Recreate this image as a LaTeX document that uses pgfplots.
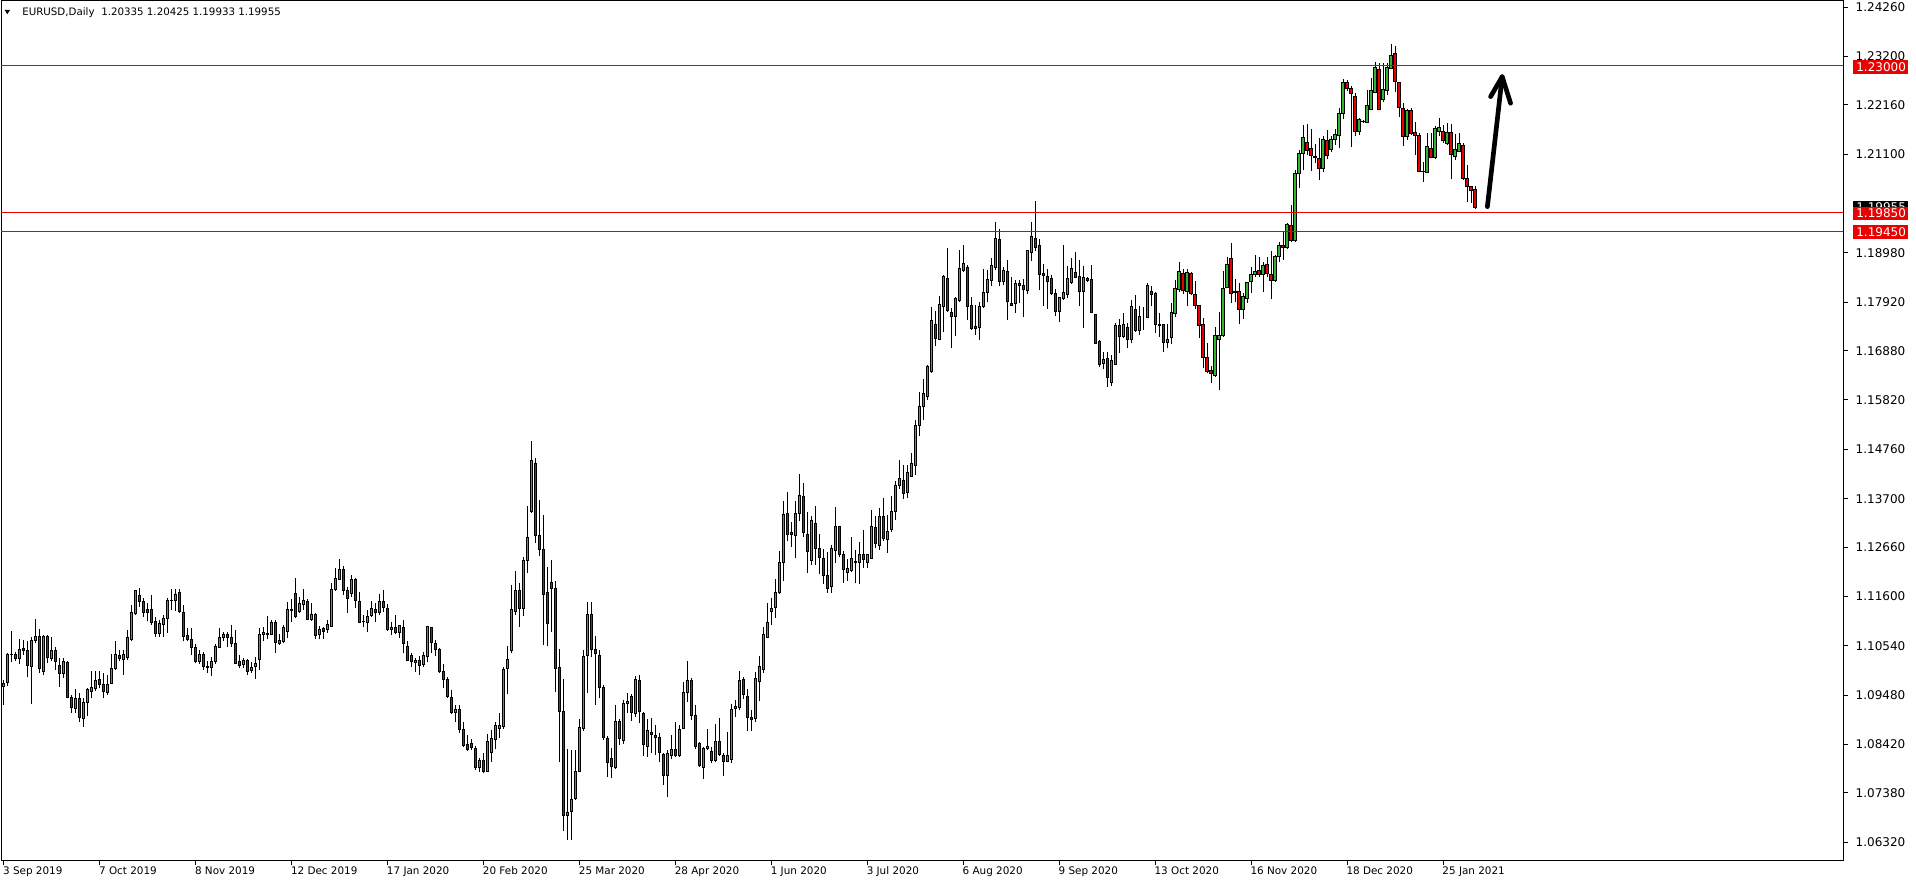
\documentclass[border=0pt]{standalone}
\usepackage{fontspec}
\setmainfont{DejaVu Sans}
\usepackage{pgfplots}
\usepackage{pgfplotstable}
\pgfplotsset{compat=1.18}
\definecolor{bull}{RGB}{50,180,50}
\definecolor{bear}{RGB}{235,0,0}
\definecolor{lvl}{RGB}{235,0,0}
\newcommand\axfont{\fontsize{9bp}{10bp}\selectfont}
\newcommand\dtfont{\fontsize{7.8bp}{9bp}\selectfont}
\pgfplotstableread{
i o h l c
0 1.0967 1.0980 1.0927 1.0973
1 1.0975 1.1038 1.0967 1.1036
2 1.1036 1.1086 1.1018 1.1035
3 1.1036 1.1041 1.1020 1.1027
4 1.1027 1.1068 1.1015 1.1046
5 1.1049 1.1066 1.1034 1.1043
6 1.1043 1.1063 1.0986 1.1011
7 1.1009 1.1073 1.0928 1.1066
8 1.1066 1.1111 1.1059 1.1074
9 1.1074 1.1089 1.0995 1.1005
10 1.0998 1.1077 1.0990 1.1073
11 1.1073 1.1077 1.1016 1.1028
12 1.1027 1.1073 1.1020 1.1043
13 1.1043 1.1052 1.1002 1.1020
14 1.1011 1.1027 1.0966 1.0995
15 1.0995 1.1027 1.0984 1.1020
16 1.1018 1.1022 1.0941 1.0942
17 1.0943 1.0948 1.0910 1.0922
18 1.0920 1.0960 1.0909 1.0941
19 1.0941 1.0952 1.0891 1.0900
20 1.0898 1.0941 1.0880 1.0932
21 1.0932 1.0964 1.0903 1.0960
22 1.0955 1.1000 1.0941 1.0965
23 1.0963 1.1000 1.0957 1.0980
24 1.0982 1.1000 1.0963 1.0970
25 1.0971 1.0996 1.0941 1.0955
26 1.0954 1.0991 1.0948 1.0971
27 1.0973 1.1036 1.0972 1.1005
28 1.1005 1.1064 1.1002 1.1036
29 1.1032 1.1045 1.1020 1.1026
30 1.1025 1.1045 1.0991 1.1034
31 1.1029 1.1088 1.1023 1.1072
32 1.1068 1.1142 1.1063 1.1126
33 1.1124 1.1174 1.1120 1.1172
34 1.1162 1.1179 1.1138 1.1149
35 1.1149 1.1156 1.1116 1.1126
36 1.1131 1.1145 1.1106 1.1125
37 1.1131 1.1163 1.1099 1.1104
38 1.1107 1.1116 1.1073 1.1081
39 1.1081 1.1109 1.1073 1.1101
40 1.1099 1.1120 1.1073 1.1113
41 1.1113 1.1156 1.1081 1.1152
42 1.1152 1.1175 1.1131 1.1151
43 1.1151 1.1175 1.1129 1.1165
44 1.1169 1.1175 1.1125 1.1127
45 1.1126 1.1142 1.1063 1.1073
46 1.1075 1.1091 1.1065 1.1068
47 1.1068 1.1091 1.1034 1.1051
48 1.1051 1.1058 1.1016 1.1020
49 1.1020 1.1045 1.1015 1.1034
50 1.1034 1.1040 1.1002 1.1009
51 1.1009 1.1020 1.0995 1.1008
52 1.1007 1.1030 1.0989 1.1020
53 1.1020 1.1058 1.1015 1.1052
54 1.1051 1.1091 1.1049 1.1072
55 1.1071 1.1084 1.1064 1.1078
56 1.1077 1.1084 1.1052 1.1071
57 1.1072 1.1098 1.1052 1.1059
58 1.1059 1.1088 1.1014 1.1016
59 1.1021 1.1034 1.1005 1.1011
60 1.1013 1.1027 1.1005 1.1023
61 1.1023 1.1025 1.0991 1.0998
62 1.1000 1.1018 1.0996 1.1008
63 1.1009 1.1030 1.0982 1.1015
64 1.1025 1.1091 1.1002 1.1078
65 1.1078 1.1094 1.1065 1.1083
66 1.1079 1.1118 1.1068 1.1080
67 1.1079 1.1109 1.1077 1.1104
68 1.1104 1.1109 1.1039 1.1061
69 1.1059 1.1079 1.1056 1.1066
70 1.1064 1.1098 1.1059 1.1094
71 1.1084 1.1147 1.1070 1.1131
72 1.1130 1.1154 1.1104 1.1132
73 1.1167 1.1199 1.1113 1.1116
74 1.1127 1.1159 1.1124 1.1145
75 1.1142 1.1175 1.1131 1.1152
76 1.1150 1.1154 1.1109 1.1111
77 1.1111 1.1145 1.1108 1.1122
78 1.1122 1.1125 1.1068 1.1076
79 1.1078 1.1096 1.1068 1.1089
80 1.1091 1.1094 1.1068 1.1084
81 1.1089 1.1109 1.1082 1.1099
82 1.1095 1.1188 1.1094 1.1175
83 1.1174 1.1220 1.1172 1.1199
84 1.1197 1.1240 1.1195 1.1218
85 1.1218 1.1225 1.1163 1.1172
86 1.1172 1.1181 1.1125 1.1156
87 1.1167 1.1206 1.1159 1.1197
88 1.1197 1.1200 1.1134 1.1151
89 1.1150 1.1170 1.1102 1.1104
90 1.1107 1.1120 1.1094 1.1106
91 1.1104 1.1131 1.1084 1.1116
92 1.1119 1.1149 1.1115 1.1134
93 1.1132 1.1145 1.1104 1.1125
94 1.1125 1.1165 1.1119 1.1149
95 1.1149 1.1174 1.1127 1.1137
96 1.1134 1.1144 1.1086 1.1088
97 1.1089 1.1104 1.1076 1.1094
98 1.1094 1.1120 1.1079 1.1082
99 1.1083 1.1099 1.1070 1.1097
100 1.1094 1.1109 1.1038 1.1059
101 1.1053 1.1063 1.1020 1.1022
102 1.1032 1.1038 1.1009 1.1020
103 1.1018 1.1028 1.0998 1.1023
104 1.1023 1.1031 1.0991 1.1012
105 1.1014 1.1041 1.1008 1.1032
106 1.1031 1.1096 1.1018 1.1095
107 1.1094 1.1095 1.1038 1.1061
108 1.1058 1.1066 1.1032 1.1045
109 1.1045 1.1048 1.0995 1.0998
110 1.0999 1.1015 1.0964 1.0982
111 1.0982 1.0987 1.0942 1.0944
112 1.0943 1.0959 1.0907 1.0910
113 1.0910 1.0927 1.0891 1.0917
114 1.0917 1.0927 1.0866 1.0874
115 1.0874 1.0891 1.0836 1.0839
116 1.0841 1.0862 1.0828 1.0830
117 1.0843 1.0853 1.0830 1.0835
118 1.0833 1.0838 1.0786 1.0793
119 1.0793 1.0812 1.0783 1.0807
120 1.0807 1.0823 1.0780 1.0783
121 1.0783 1.0864 1.0783 1.0848
122 1.0824 1.0873 1.0805 1.0855
123 1.0853 1.0891 1.0831 1.0882
124 1.0875 1.0909 1.0855 1.0882
125 1.0880 1.1008 1.0875 1.1002
126 1.1005 1.1053 1.0950 1.1025
127 1.1043 1.1184 1.1038 1.1132
128 1.1127 1.1215 1.1120 1.1172
129 1.1172 1.1188 1.1095 1.1133
130 1.1133 1.1244 1.1118 1.1238
131 1.1237 1.1354 1.1211 1.1287
132 1.1342 1.1494 1.1340 1.1451
133 1.1445 1.1457 1.1274 1.1290
134 1.1290 1.1367 1.1247 1.1261
135 1.1260 1.1335 1.1056 1.1165
136 1.1169 1.1224 1.1053 1.1102
137 1.1190 1.1238 1.1084 1.1176
138 1.1177 1.1192 1.0955 1.1005
139 1.1008 1.1047 1.0803 1.0912
140 1.0912 1.0982 1.0655 1.0690
141 1.0690 1.0831 1.0636 1.0695
142 1.0697 1.0830 1.0636 1.0724
143 1.0725 1.0830 1.0723 1.0783
144 1.0783 1.0896 1.0783 1.0879
145 1.0877 1.1045 1.0871 1.1030
146 1.1032 1.1148 1.0953 1.1120
147 1.1120 1.1147 1.1030 1.1045
148 1.1045 1.1075 1.0927 1.1037
149 1.1032 1.1045 1.0941 1.0965
150 1.0964 1.0970 1.0851 1.0857
151 1.0855 1.0860 1.0772 1.0803
152 1.0812 1.0835 1.0769 1.0794
153 1.0793 1.0927 1.0790 1.0892
154 1.0892 1.0896 1.0841 1.0855
155 1.0851 1.0937 1.0843 1.0930
156 1.0930 1.0953 1.0909 1.0935
157 1.0944 1.0950 1.0893 1.0910
158 1.0909 1.0989 1.0900 1.0982
159 1.0980 1.0991 1.0887 1.0912
160 1.0909 1.0912 1.0817 1.0841
161 1.0837 1.0896 1.0815 1.0871
162 1.0868 1.0898 1.0823 1.0864
163 1.0862 1.0884 1.0819 1.0857
164 1.0857 1.0866 1.0805 1.0825
165 1.0821 1.0823 1.0755 1.0775
166 1.0774 1.0830 1.0728 1.0823
167 1.0819 1.0862 1.0810 1.0831
168 1.0830 1.0889 1.0815 1.0819
169 1.0819 1.0884 1.0815 1.0874
170 1.0876 1.0975 1.0874 1.0953
171 1.0954 1.1020 1.0934 1.0980
172 1.0980 1.0984 1.0894 1.0905
173 1.0905 1.0927 1.0833 1.0837
174 1.0843 1.0848 1.0794 1.0796
175 1.0793 1.0837 1.0767 1.0833
176 1.0833 1.0876 1.0830 1.0838
177 1.0827 1.0837 1.0801 1.0807
178 1.0807 1.0886 1.0805 1.0849
179 1.0849 1.0898 1.0817 1.0821
180 1.0819 1.0823 1.0774 1.0805
181 1.0806 1.0869 1.0803 1.0819
182 1.0810 1.0929 1.0801 1.0916
183 1.0920 1.0937 1.0901 1.0924
184 1.0921 1.1000 1.0916 1.0980
185 1.0982 1.0987 1.0939 1.0950
186 1.0945 1.0960 1.0870 1.0900
187 1.0900 1.0915 1.0870 1.0895
188 1.0898 1.0998 1.0890 1.0984
189 1.0978 1.1032 1.0935 1.1010
190 1.1003 1.1095 1.0995 1.1079
191 1.1072 1.1145 1.1070 1.1104
192 1.1127 1.1156 1.1098 1.1134
193 1.1136 1.1197 1.1113 1.1169
194 1.1168 1.1258 1.1165 1.1233
195 1.1233 1.1364 1.1194 1.1335
196 1.1337 1.1385 1.1278 1.1292
197 1.1298 1.1319 1.1267 1.1293
198 1.1290 1.1365 1.1242 1.1338
199 1.1338 1.1423 1.1323 1.1376
200 1.1374 1.1403 1.1288 1.1297
201 1.1292 1.1342 1.1211 1.1256
202 1.1237 1.1333 1.1227 1.1324
203 1.1316 1.1354 1.1227 1.1263
204 1.1262 1.1294 1.1208 1.1244
205 1.1242 1.1261 1.1187 1.1204
206 1.1204 1.1256 1.1168 1.1177
207 1.1181 1.1270 1.1168 1.1262
208 1.1258 1.1351 1.1232 1.1310
209 1.1310 1.1312 1.1245 1.1250
210 1.1250 1.1258 1.1189 1.1218
211 1.1211 1.1240 1.1194 1.1219
212 1.1215 1.1288 1.1213 1.1242
213 1.1233 1.1260 1.1188 1.1234
214 1.1233 1.1276 1.1186 1.1251
215 1.1251 1.1303 1.1222 1.1240
216 1.1233 1.1252 1.1220 1.1249
217 1.1242 1.1346 1.1240 1.1310
218 1.1308 1.1333 1.1263 1.1274
219 1.1270 1.1349 1.1260 1.1331
220 1.1331 1.1372 1.1280 1.1285
221 1.1283 1.1335 1.1254 1.1300
222 1.1304 1.1376 1.1299 1.1343
223 1.1342 1.1408 1.1324 1.1399
224 1.1399 1.1453 1.1390 1.1413
225 1.1410 1.1442 1.1369 1.1381
226 1.1383 1.1442 1.1372 1.1427
227 1.1417 1.1469 1.1416 1.1446
228 1.1442 1.1539 1.1421 1.1528
229 1.1527 1.1600 1.1505 1.1569
230 1.1568 1.1627 1.1539 1.1596
231 1.1589 1.1657 1.1581 1.1655
232 1.1643 1.1781 1.1641 1.1752
233 1.1745 1.1774 1.1697 1.1715
234 1.1711 1.1806 1.1710 1.1788
235 1.1783 1.1851 1.1729 1.1847
236 1.1844 1.1908 1.1772 1.1774
237 1.1771 1.1779 1.1694 1.1761
238 1.1761 1.1803 1.1720 1.1801
239 1.1796 1.1904 1.1793 1.1864
240 1.1860 1.1915 1.1856 1.1876
241 1.1867 1.1872 1.1753 1.1783
242 1.1786 1.1804 1.1732 1.1736
243 1.1740 1.1786 1.1722 1.1736
244 1.1738 1.1793 1.1711 1.1784
245 1.1783 1.1863 1.1779 1.1814
246 1.1813 1.1861 1.1793 1.1840
247 1.1838 1.1887 1.1826 1.1870
248 1.1867 1.1964 1.1861 1.1929
249 1.1927 1.1949 1.1826 1.1836
250 1.1836 1.1867 1.1829 1.1861
251 1.1859 1.1883 1.1753 1.1793
252 1.1790 1.1847 1.1783 1.1785
253 1.1790 1.1840 1.1770 1.1833
254 1.1833 1.1840 1.1790 1.1828
255 1.1829 1.1843 1.1761 1.1820
256 1.1817 1.1904 1.1810 1.1903
257 1.1899 1.1964 1.1881 1.1934
258 1.1929 1.2010 1.1903 1.1910
259 1.1913 1.1927 1.1818 1.1852
260 1.1853 1.1874 1.1783 1.1849
261 1.1848 1.1863 1.1777 1.1836
262 1.1843 1.1851 1.1808 1.1810
263 1.1811 1.1820 1.1763 1.1772
264 1.1772 1.1804 1.1750 1.1802
265 1.1801 1.1915 1.1797 1.1813
266 1.1809 1.1869 1.1802 1.1843
267 1.1835 1.1887 1.1831 1.1864
268 1.1856 1.1901 1.1844 1.1846
269 1.1848 1.1883 1.1784 1.1815
270 1.1815 1.1869 1.1736 1.1846
271 1.1844 1.1847 1.1836 1.1839
272 1.1841 1.1872 1.1770 1.1770
273 1.1765 1.1766 1.1702 1.1704
274 1.1707 1.1711 1.1652 1.1659
275 1.1661 1.1686 1.1648 1.1668
276 1.1672 1.1686 1.1611 1.1631
277 1.1619 1.1679 1.1612 1.1666
278 1.1659 1.1747 1.1657 1.1743
279 1.1743 1.1755 1.1684 1.1718
280 1.1718 1.1770 1.1715 1.1745
281 1.1738 1.1747 1.1694 1.1713
282 1.1711 1.1797 1.1704 1.1783
283 1.1777 1.1808 1.1729 1.1731
284 1.1731 1.1783 1.1722 1.1761
285 1.1760 1.1781 1.1732 1.1760
286 1.1760 1.1833 1.1758 1.1829
287 1.1815 1.1826 1.1784 1.1808
288 1.1811 1.1815 1.1727 1.1745
289 1.1745 1.1770 1.1718 1.1742
290 1.1745 1.1745 1.1686 1.1706
291 1.1706 1.1745 1.1693 1.1712
292 1.1717 1.1791 1.1702 1.1771
293 1.1767 1.1839 1.1760 1.1822
294 1.1820 1.1879 1.1815 1.1858
295 1.1854 1.1863 1.1810 1.1818
296 1.1815 1.1863 1.1784 1.1856
297 1.1854 1.1858 1.1808 1.1810
298 1.1808 1.1838 1.1777 1.1785
299 1.1786 1.1787 1.1716 1.1743
300 1.1745 1.1758 1.1650 1.1674
301 1.1674 1.1705 1.1639 1.1643
302 1.1646 1.1654 1.1619 1.1639
303 1.1634 1.1738 1.1632 1.1720
304 1.1712 1.1772 1.1604 1.1721
305 1.1720 1.1859 1.1718 1.1822
306 1.1824 1.1890 1.1822 1.1874
307 1.1886 1.1919 1.1791 1.1811
308 1.1816 1.1842 1.1793 1.1813
309 1.1816 1.1833 1.1745 1.1777
310 1.1776 1.1813 1.1756 1.1804
311 1.1801 1.1836 1.1791 1.1834
312 1.1836 1.1867 1.1813 1.1852
313 1.1852 1.1893 1.1847 1.1859
314 1.1861 1.1890 1.1847 1.1852
315 1.1852 1.1879 1.1815 1.1872
316 1.1874 1.1890 1.1847 1.1854
317 1.1852 1.1903 1.1798 1.1838
318 1.1838 1.1894 1.1836 1.1891
319 1.1890 1.1922 1.1879 1.1913
320 1.1915 1.1942 1.1883 1.1910
321 1.1910 1.1963 1.1906 1.1960
322 1.1958 1.2001 1.1922 1.1924
323 1.1924 1.2076 1.1922 1.2069
324 1.2069 1.2119 1.2037 1.2112
325 1.2112 1.2173 1.2076 1.2147
326 1.2136 1.2175 1.2109 1.2118
327 1.2123 1.2164 1.2075 1.2107
328 1.2105 1.2132 1.2091 1.2104
329 1.2101 1.2144 1.2055 1.2080
330 1.2080 1.2149 1.2071 1.2141
331 1.2139 1.2162 1.2099 1.2107
332 1.2121 1.2149 1.2114 1.2141
333 1.2141 1.2164 1.2130 1.2152
334 1.2150 1.2209 1.2123 1.2197
335 1.2197 1.2271 1.2185 1.2265
336 1.2265 1.2270 1.2245 1.2252
337 1.2252 1.2256 1.2126 1.2241
338 1.2235 1.2241 1.2150 1.2159
339 1.2159 1.2187 1.2152 1.2184
340 1.2180 1.2184 1.2177 1.2181
341 1.2178 1.2248 1.2177 1.2214
342 1.2207 1.2273 1.2205 1.2248
343 1.2243 1.2309 1.2241 1.2297
344 1.2293 1.2306 1.2205 1.2207
345 1.2227 1.2306 1.2223 1.2250
346 1.2247 1.2306 1.2238 1.2297
347 1.2295 1.2347 1.2293 1.2323
348 1.2326 1.2343 1.2243 1.2266
349 1.2265 1.2266 1.2191 1.2210
350 1.2209 1.2221 1.2128 1.2148
351 1.2148 1.2207 1.2141 1.2205
352 1.2205 1.2209 1.2152 1.2154
353 1.2157 1.2180 1.2109 1.2150
354 1.2151 1.2156 1.2071 1.2073
355 1.2074 1.2094 1.2051 1.2073
356 1.2071 1.2156 1.2069 1.2127
357 1.2123 1.2155 1.2101 1.2103
358 1.2103 1.2171 1.2099 1.2166
359 1.2159 1.2187 1.2150 1.2168
360 1.2160 1.2173 1.2134 1.2139
361 1.2134 1.2177 1.2130 1.2157
362 1.2157 1.2175 1.2056 1.2110
363 1.2105 1.2153 1.2098 1.2121
364 1.2116 1.2155 1.2114 1.2134
365 1.2128 1.2134 1.2055 1.2058
366 1.2058 1.2087 1.2008 1.2041
367 1.2041 1.2041 1.2005 1.2032
368 1.20335 1.20425 1.19933 1.19955
}\candles
\pgfplotsset{chartgeom/.style={at={(0.75bp,18bp)}, anchor=south west,
  width=1381.5bp, height=644.25bp, scale only axis,
  xmin=-0.675, xmax=460.06, ymin=1.05934, ymax=1.24395}}
\begin{document}
\begin{tikzpicture}
\fill[white] (0,0) rectangle (1437bp,663bp);
\useasboundingbox (0,0) rectangle (1437bp,663bp);
\begin{axis}[chartgeom,
  axis line style={black, line width=0.75bp},
  xtick={0,24,48,72,96,120,144,168,192,216,240,264,288,312,336,360},
  xticklabels={3 Sep 2019,7 Oct 2019,8 Nov 2019,12 Dec 2019,17 Jan 2020,20 Feb 2020,25 Mar 2020,28 Apr 2020,1 Jun 2020,3 Jul 2020,6 Aug 2020,9 Sep 2020,13 Oct 2020,16 Nov 2020,18 Dec 2020,25 Jan 2021},
  ytick={1.0632,1.0738,1.0842,1.0948,1.1054,1.1160,1.1266,1.1370,1.1476,1.1582,1.1688,1.1792,1.1898,1.2110,1.2216,1.2320,1.2426},
  yticklabels={1.06320,1.07380,1.08420,1.09480,1.10540,1.11600,1.12660,1.13700,1.14760,1.15820,1.16880,1.17920,1.18980,1.21100,1.22160,1.23200,1.24260},
  xtick pos=left, ytick pos=right, yticklabel pos=right,
  tick align=outside, major tick length=3.5bp,
  tick style={black, line width=0.75bp},
  xticklabel style={anchor=north west, inner sep=0pt, font=\dtfont, xshift=-0.6bp, yshift=-1.5bp},
  yticklabel style={anchor=west, inner sep=0pt, font=\axfont, xshift=5.75bp},
]
\addplot[draw=none, mark=none, forget plot,
  error bars/.cd, y dir=plus, y explicit, error mark=none,
  error bar style={draw=black, line width=0.75bp}]
  table[x=i, y=l, y error plus expr=\thisrow{h}-\thisrow{l}] {\candles};
\end{axis}
\begin{axis}[chartgeom, hide axis, ybar stacked, bar width=0.575]
\addplot[draw=none, fill=none] table[x=i, y expr={min(\thisrow{o},\thisrow{c})}] {\candles};
\addplot[fill=bull, draw=black, line width=0.75bp] table[x=i, y expr={max(\thisrow{c}-\thisrow{o},0)}] {\candles};
\addplot[fill=bear, draw=black, line width=0.75bp] table[x=i, y expr={max(\thisrow{o}-\thisrow{c},0)}] {\candles};
\end{axis}
\begin{axis}[chartgeom, hide axis, clip=false]
\addplot[lvl, line width=0.75bp, mark=none] coordinates {(-0.675,1.2300) (460.06,1.2300)};
\addplot[lvl, line width=0.75bp, mark=none] coordinates {(-0.675,1.1985) (460.06,1.1985)};
\addplot[lvl, line width=0.75bp, mark=none] coordinates {(-0.675,1.1945) (460.06,1.1945)};
\fill[black] ([xshift=7.5bp,yshift=-5bp]axis cs:460.06,1.19955) rectangle ([xshift=48.5bp,yshift=5bp]axis cs:460.06,1.19955);
\node[anchor=west, inner sep=0pt, text=white, font=\axfont, xshift=9.75bp] at (axis cs:460.06,1.19955) {1.19955};
\fill[lvl] ([xshift=7.5bp,yshift=-5.75bp]axis cs:460.06,1.2300) rectangle ([xshift=48.5bp,yshift=4.25bp]axis cs:460.06,1.2300);
\node[anchor=west, inner sep=0pt, text=white, font=\axfont, xshift=9.75bp, yshift=-0.75bp] at (axis cs:460.06,1.2300) {1.23000};
\fill[lvl] ([xshift=7.5bp,yshift=-5.75bp]axis cs:460.06,1.1985) rectangle ([xshift=48.5bp,yshift=4.25bp]axis cs:460.06,1.1985);
\node[anchor=west, inner sep=0pt, text=white, font=\axfont, xshift=9.75bp, yshift=-0.75bp] at (axis cs:460.06,1.1985) {1.19850};
\fill[lvl] ([xshift=7.5bp,yshift=-5.75bp]axis cs:460.06,1.1945) rectangle ([xshift=48.5bp,yshift=4.25bp]axis cs:460.06,1.1945);
\node[anchor=west, inner sep=0pt, text=white, font=\axfont, xshift=9.75bp, yshift=-0.75bp] at (axis cs:460.06,1.1945) {1.19450};
\draw[line width=3.5bp, line cap=round, line join=round] (axis cs:371.1,1.19975) -- (axis cs:374.8,1.22768);
\draw[line width=3.5bp, line cap=round, line join=round] (axis cs:371.9,1.22339) -- (axis cs:374.8,1.22768) -- (axis cs:376.9,1.22197);
\end{axis}
\fill[black] (3.5bp,655.5bp) -- (7.5bp,655.5bp) -- (5.5bp,652.3bp) -- cycle;
\node[anchor=base west, inner sep=0pt, font=\fontsize{7.7bp}{9bp}\selectfont] at (16.5bp,651.4bp) {EURUSD,Daily\hspace{5bp}1.20335 1.20425 1.19933 1.19955};
\end{tikzpicture}
\end{document}
